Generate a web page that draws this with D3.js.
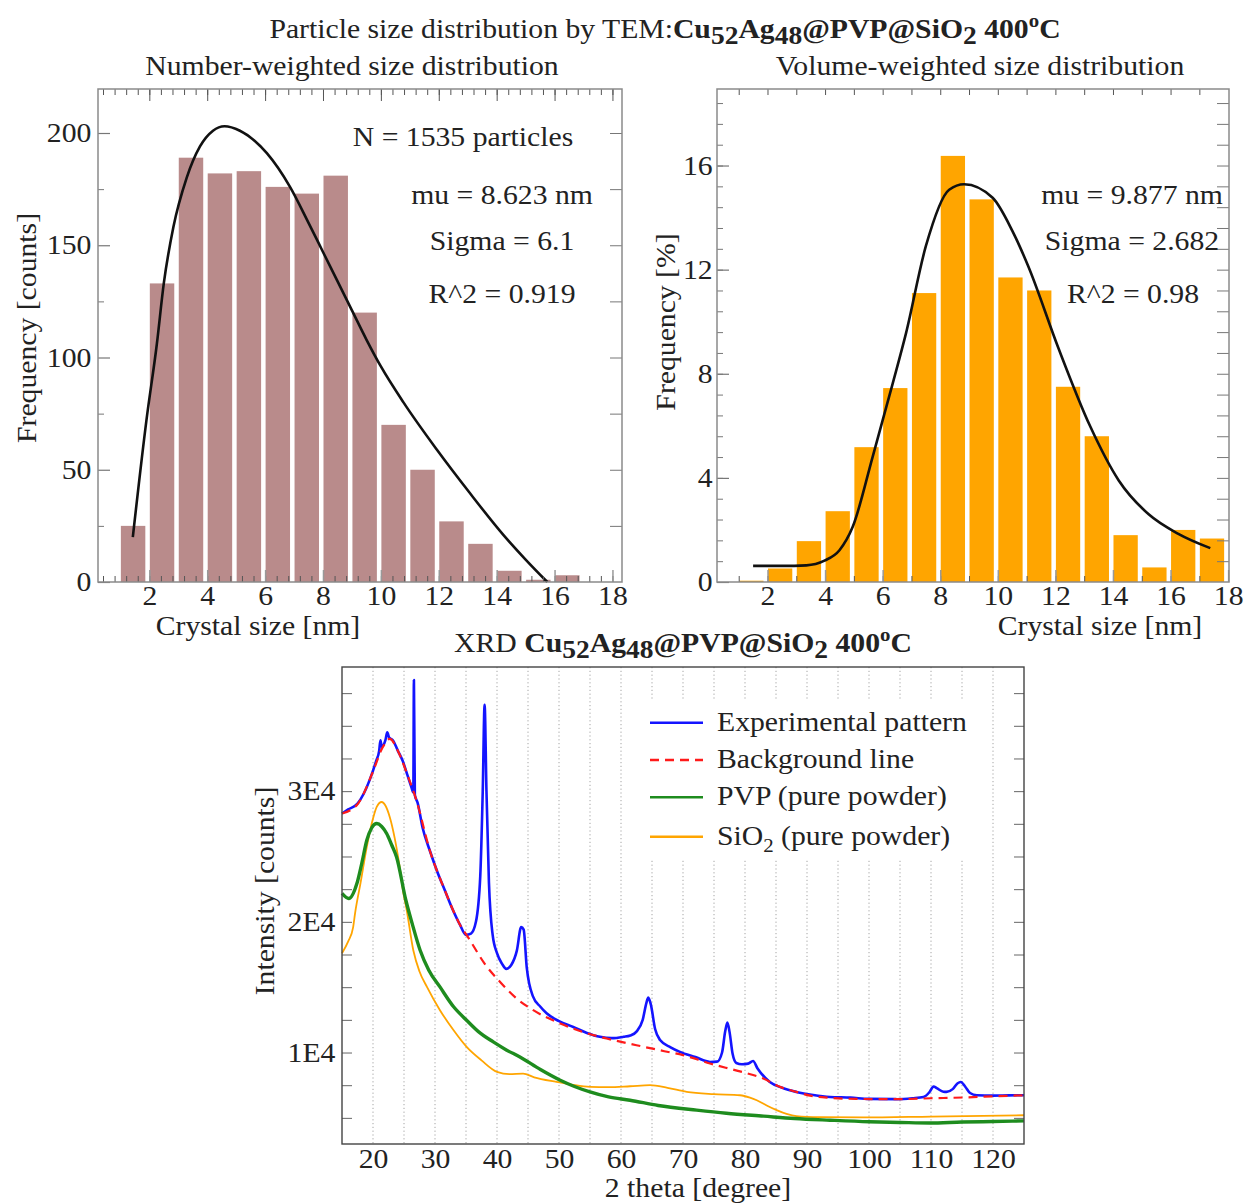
<!DOCTYPE html>
<html>
<head>
<meta charset="utf-8">
<script src="https://cdn.jsdelivr.net/npm/d3@7"></script>
<style>
  body { margin: 0; background: #fff; }
  text { font-family: "Liberation Serif", "Times New Roman", serif; fill: #222; }
</style>
</head>
<body>
<svg id="chart" width="1248" height="1204"></svg>
<script>
// ---------- TEM histograms ----------
const binStart = d3.range(1, 18);                       // bins [1,2), [2,3) ... [17,18)
const numberCounts = [25, 133, 189, 182, 183, 176, 173, 181, 120, 70, 50, 27, 17, 5, 1, 3, 0];
const volumePercent = [0.05, 0.52, 1.57, 2.72, 5.18, 7.45, 11.1, 16.37, 14.7, 11.7, 11.2, 7.5, 5.6, 1.8, 0.56, 2.0, 1.67];

// fitted distributions [size nm, value]
const numberFit = [[1.43,20],[1.9,72],[2.26,106],[2.5,133],[2.83,158],[3.29,180],[3.75,194],[4.2,201],
  [4.6,203],[5.13,201],[6.06,191],[6.86,176],[7.5,160],[8.0,147],[8.5,134],[9.0,121],[9.5,108],[10.0,96],
  [10.78,80],[11.93,59],[13.08,39.5],[14.23,21],[15.0,10],[15.75,0]];
const volumeFit = [[1.5,0.62],[2.5,0.62],[3.35,0.64],[3.98,0.82],[4.5,1.22],[4.96,2.12],[5.65,4.8],
  [6.35,7.63],[6.81,9.55],[7.5,12.9],[8.31,15.07],[8.83,15.28],[9.82,14.76],[10.5,13.5],[11.05,12.15],
  [12.1,9.0],[13.2,6.0],[14.2,3.9],[15.24,2.6],[16.27,1.85],[17.38,1.3]];

const sizeTicks = d3.range(2, 19, 2);
const countTicks = [0, 50, 100, 150, 200];
const percentTicks = [0, 4, 8, 12, 16];

// ---------- XRD patterns [2theta deg, counts] ----------
const xrdExperimental = [[15,28290],[16,28600],[17.5,29050],[18.5,29800],[19.5,30900],[20.5,32300],[21,33100],
  [21.2,33900],[21.4,33400],[22,33900],[22.3,34500],[22.6,34100],[23.2,33900],[24,33100],[24.8,32300],
  [25.5,31300],[26.2,30300],[26.5,29900],[26.6,38500],[26.75,29700],[27.2,29100],[28,27200],[29.2,25400],
  [30.4,23800],[31.6,22400],[32.8,21000],[34,19800],[35,19000],[35.8,19100],[36.6,20000],[37.3,23500],
  [37.7,30000],[38,36600],[38.3,30000],[38.7,23000],[39.3,19000],[40,17600],[40.8,16800],[41.5,16400],
  [42.3,16700],[43.2,17800],[43.9,19600],[44.3,19400],[44.8,16500],[45.8,14300],[47,13500],[48,13000],
  [50,12400],[52.3,11950],[54.5,11500],[56.6,11200],[58.5,11100],[60.4,11200],[61.5,11300],[62.5,11600],
  [63.5,12500],[64.1,13800],[64.4,14200],[64.8,13700],[65.5,11800],[66.3,10950],[68,10400],[69.5,10050],
  [72,9650],[74.35,9280],[75.5,9300],[76.3,10000],[76.8,11600],[77.15,12300],[77.5,11600],[78,9900],
  [78.6,9200],[79.5,9100],[80.5,9150],[81.3,9350],[82,8800],[84,7750],[86,7300],[88.3,6985],[91,6750],
  [93.7,6600],[97,6550],[100,6450],[104.5,6430],[107,6500],[108.8,6600],[109.8,7000],[110.4,7400],
  [111,7250],[112,7000],[112.5,6985],[113.5,7200],[114.3,7650],[114.8,7750],[115.5,7400],[116.3,6900],
  [117.4,6730],[120,6700],[122.5,6720],[125,6730]];
const xrdBackground = [[15,28290],[17.5,29000],[20,31500],[21.5,33300],[22.7,34000],[24,33100],[25.5,31300],
  [27,29300],[29.2,25400],[31.6,22400],[34,19800],[35.5,18700],[38,16800],[40.5,15400],[43,14200],
  [45.85,13240],[50.2,12220],[54,11550],[57.7,11070],[62.5,10560],[67,10100],[70,9800],[74.35,9160],
  [78,8700],[80,8450],[82.95,8010],[85.5,7400],[88.3,6985],[90.5,6700],[93.7,6530],[98,6450],[104.5,6430],
  [110,6500],[115.2,6560],[120,6650],[125,6730]];
const xrdPVP = [[15,22170],[16.1,21780],[17.4,22930],[18.2,24500],[19,26240],[19.8,27200],[20.6,27520],
  [21.4,27300],[22.2,26760],[23,25900],[23.8,24970],[25.3,21650],[26.3,19900],[27.6,17830],[29,16300],
  [30.8,15020],[33,13500],[35.1,12470],[37,11600],[39.4,10810],[41.5,10200],[43.7,9660],[47,8700],
  [50.2,7880],[52.5,7400],[55,6985],[58,6600],[61.45,6350],[66,5950],[72.2,5590],[77,5350],[83,5130],
  [88,4950],[93.7,4820],[100,4700],[105,4650],[109.8,4610],[115,4680],[120,4720],[125,4770]];
const xrdSiO2 = [[15,17600],[16,18500],[16.8,19600],[17.1,20630],[18,23000],[19,25730],[20,27900],
  [20.6,28790],[21.4,29170],[22,28900],[22.7,28020],[23.5,26400],[24.3,24200],[24.9,22200],[25.4,21000],
  [26.5,17830],[27.5,16200],[28.7,15020],[30.8,13240],[33,11700],[35.1,10430],[37.5,9400],[40,8520],
  [42,8350],[44.2,8390],[46,8100],[49.6,7750],[52,7550],[55,7370],[58,7350],[61.45,7420],[64.7,7500],
  [67.5,7300],[70.6,6985],[74.9,6810],[79.2,6730],[80.8,6550],[81.9,6350],[83.5,5950],[85.1,5590],
  [86.7,5300],[88.3,5130],[92,5050],[99.1,5030],[110,5100],[125,5200]];

const thetaLabels = d3.range(20, 121, 10);
const thetaGrid = d3.range(20, 121, 5);
const intensityTicks = d3.range(5000, 39000, 2500);

// ---------- helpers ----------
const svg = d3.select('#chart');
const FS = 27, STRETCH = 1.1;

function addText(parent, x, y, str, anchor = 'middle', size = FS) {
  return parent.append('text')
    .attr('transform', `translate(${x},${y}) scale(${STRETCH},1)`)
    .attr('text-anchor', anchor).attr('font-size', size).text(str);
}
function addVText(parent, x, y, str) {
  return parent.append('text')
    .attr('transform', `translate(${x},${y}) rotate(-90) scale(${STRETCH},1)`)
    .attr('text-anchor', 'middle').attr('dy', '0.35em').attr('font-size', FS).text(str);
}
function formulaTitle(x, y, lead) {
  const t = svg.append('text')
    .attr('transform', `translate(${x},${y}) scale(${STRETCH},1)`)
    .attr('text-anchor', 'middle').attr('font-size', FS);
  t.append('tspan').text(lead);
  const b = (s, dy, size) => {
    const sp = t.append('tspan').attr('font-weight', 'bold').text(s);
    if (dy) sp.attr('dy', dy);
    if (size) sp.attr('font-size', size);
  };
  b('Cu'); b('52', 6, 25); b('Ag', -6); b('48', 6, 25); b('@PVP@SiO', -6); b('2', 6, 25);
  b(' 400', -6); b('o', -11, 19); b('C', 11);
}
function styleTicks(g, color, width) {
  g.select('.domain').remove();
  g.selectAll('.tick line').attr('stroke', color).attr('stroke-width', width);
  g.selectAll('.tick text').attr('font-size', FS).attr('fill', '#222')
    .attr('font-family', '"Liberation Serif", "Times New Roman", serif')
    .attr('transform', `scale(${STRETCH},1)`);
}

// ---------- histogram panel ----------
function histPanel(o) {
  const x = d3.scaleLinear().domain(o.xDomain).range([o.left, o.right]);
  const y = d3.scaleLinear().domain(o.yDomain).range([o.bottom, o.top]);
  const g = svg.append('g');

  g.selectAll('rect.bar').data(o.values).join('rect').attr('class', 'bar')
    .attr('x', (d, i) => x(binStart[i]) + 0.5)
    .attr('width', (d, i) => x(binStart[i] + 1) - x(binStart[i]) - 4.5)
    .attr('y', d => y(d)).attr('height', d => y(0) - y(d))
    .attr('fill', o.color);

  g.append('path').datum(o.fit)
    .attr('d', d3.line().x(d => x(d[0])).y(d => y(d[1])).curve(d3.curveMonotoneX))
    .attr('fill', 'none').attr('stroke', '#111').attr('stroke-width', 2.6);

  // minor / major ticks on all four sides, pointing inward
  const ax = (gen, tx, ty) => g.append('g').attr('transform', `translate(${tx},${ty})`).call(gen);
  styleTicks(ax(d3.axisBottom(x).tickValues(o.xMinor).tickSize(-6).tickFormat(''), 0, o.bottom), '#555', 1);
  styleTicks(ax(d3.axisBottom(x).tickValues(sizeTicks).tickSize(-12).tickPadding(4), 0, o.bottom), '#999', 1.5);
  styleTicks(ax(d3.axisTop(x).tickValues(o.topTicks).tickSize(-6).tickFormat(''), 0, o.top), '#555', 1);
  if (o.topMajor) styleTicks(ax(d3.axisTop(x).tickValues(sizeTicks).tickSize(-12).tickFormat(''), 0, o.top), '#555', 1);
  styleTicks(ax(d3.axisLeft(y).tickValues(o.yMinor).tickSize(-6).tickFormat(''), o.left, 0), '#777', 1);
  styleTicks(ax(d3.axisLeft(y).tickValues(o.yTicks).tickSize(-12).tickPadding(o.yPad), o.left, 0), '#777', 1.2);
  styleTicks(ax(d3.axisRight(y).tickValues(o.rightTicks).tickSize(-12).tickFormat(''), o.right, 0), '#777', 1);

  g.append('rect').attr('x', o.left).attr('y', o.top)
    .attr('width', o.right - o.left).attr('height', o.bottom - o.top)
    .attr('fill', 'none').attr('stroke', '#8a8a8a').attr('stroke-width', 1.5);

  addText(g, o.subtitleX, 75, o.subtitle);
  addText(g, o.xLabelX, 635, 'Crystal size [nm]');
  addVText(g, o.yLabelX, o.yLabelY, o.yLabel);
  o.notes.forEach(n => addText(g, n[0], n[1], n[2]));
}

formulaTitle(665, 38, 'Particle size distribution by TEM:');

histPanel({
  left: 98, right: 622, top: 89, bottom: 582,
  xDomain: [0.227, 18.33], yDomain: [0, 219.6],
  values: numberCounts, fit: numberFit, color: '#b98b8b',
  xMinor: d3.range(0.4, 18.3, 0.4), topTicks: d3.range(0.4, 18.3, 0.4), topMajor: true,
  yTicks: countTicks, yMinor: [25, 75, 125, 175], rightTicks: [25, 50, 75, 100, 125, 150, 175, 200],
  yPad: 6,
  subtitle: 'Number-weighted size distribution', subtitleX: 352,
  xLabelX: 258, yLabel: 'Frequency [counts]', yLabelX: 27, yLabelY: 328,
  notes: [[463, 146, 'N = 1535 particles'], [502, 204, 'mu = 8.623 nm'],
          [502, 250, 'Sigma = 6.1'], [502, 303, 'R^2 = 0.919']]
});

histPanel({
  left: 717, right: 1229, top: 89, bottom: 582,
  xDomain: [0.246, 18.03], yDomain: [0, 18.94],
  values: volumePercent, fit: volumeFit, color: '#ffa500',
  xMinor: d3.range(1, 18, 1), topTicks: d3.range(1, 18, 1), topMajor: false,
  yTicks: percentTicks, yMinor: d3.range(0.8, 18.9, 0.8), rightTicks: d3.range(0.8, 18.9, 0.8),
  yPad: 4,
  subtitle: 'Volume-weighted size distribution', subtitleX: 980,
  xLabelX: 1100, yLabel: 'Frequency [%]', yLabelX: 666, yLabelY: 322,
  notes: [[1132, 204, 'mu = 9.877 nm'], [1132, 250, 'Sigma = 2.682'], [1133, 303, 'R^2 = 0.98']]
});

// ---------- XRD panel ----------
const X = { left: 342, right: 1024, top: 667, bottom: 1144 };
const xt = d3.scaleLinear().domain([15, 125]).range([X.left, X.right]);
const yi = d3.scaleLinear().domain([3000, 39500]).range([X.bottom, X.top]);
const gx = svg.append('g');

formulaTitle(683, 652, 'XRD ');

gx.selectAll('line.grid').data(thetaGrid).join('line').attr('class', 'grid')
  .attr('x1', d => xt(d)).attr('x2', d => xt(d))
  .attr('y1', X.top).attr('y2', X.bottom)
  .attr('stroke', '#9a9a9a').attr('stroke-width', 0.9).attr('stroke-dasharray', '1.2,2.6');

// legend backdrop hides the grid behind the key
gx.append('rect').attr('x', 645).attr('y', 701).attr('width', 345).attr('height', 158).attr('fill', '#fff');

const lineGen = d3.line().x(d => xt(d[0])).y(d => yi(d[1])).curve(d3.curveMonotoneX);
const series = [
  { data: xrdSiO2, color: '#ffa500', width: 1.8, dash: null, name: 'SiO', sub: '2', rest: ' (pure powder)' },
  { data: xrdPVP, color: '#1e8c1e', width: 3.4, dash: null, name: 'PVP (pure powder)' },
  { data: xrdExperimental, color: '#1414ff', width: 2.6, dash: null, name: 'Experimental pattern' },
  { data: xrdBackground, color: '#ff1a1a', width: 2.2, dash: '9,6', name: 'Background line' }
];
series.forEach(s => {
  gx.append('path').datum(s.data).attr('d', lineGen)
    .attr('fill', 'none').attr('stroke', s.color).attr('stroke-width', s.width)
    .attr('stroke-linejoin', 'round').attr('stroke-dasharray', s.dash);
});

const axX = (gen, tx, ty) => gx.append('g').attr('transform', `translate(${tx},${ty})`).call(gen);
styleTicks(axX(d3.axisLeft(yi).tickValues(intensityTicks).tickSize(-10).tickPadding(6)
  .tickFormat(d => d % 10000 === 0 ? (d / 10000) + 'E4' : ''), X.left, 0), '#666', 1);
styleTicks(axX(d3.axisRight(yi).tickValues(intensityTicks).tickSize(-10).tickFormat(''), X.right, 0), '#666', 1);
styleTicks(axX(d3.axisBottom(xt).tickValues(thetaLabels).tickSize(0).tickPadding(5), 0, X.bottom), '#666', 0);

gx.append('rect').attr('x', X.left).attr('y', X.top)
  .attr('width', X.right - X.left).attr('height', X.bottom - X.top)
  .attr('fill', 'none').attr('stroke', '#444').attr('stroke-width', 1.4);

addText(gx, 698, 1197, '2 theta [degree]');
addVText(gx, 265, 891, 'Intensity [counts]');

// legend entries in drawing order of the key
const legendOrder = [2, 3, 1, 0];
const legendY = [722.7, 760, 797.3, 836.7];
legendOrder.forEach((si, k) => {
  const s = series[si];
  gx.append('line').attr('x1', 650).attr('x2', 703).attr('y1', legendY[k]).attr('y2', legendY[k])
    .attr('stroke', s.color).attr('stroke-width', 2.6).attr('stroke-dasharray', s.dash);
  const t = addText(gx, 717, legendY[k] + 8, '', 'start');
  if (s.sub) {
    t.append('tspan').text(s.name);
    t.append('tspan').attr('font-size', 19).attr('dy', 7).text(s.sub);
    t.append('tspan').attr('dy', -7).text(s.rest);
  } else {
    t.text(s.name);
  }
});
</script>
</body>
</html>
